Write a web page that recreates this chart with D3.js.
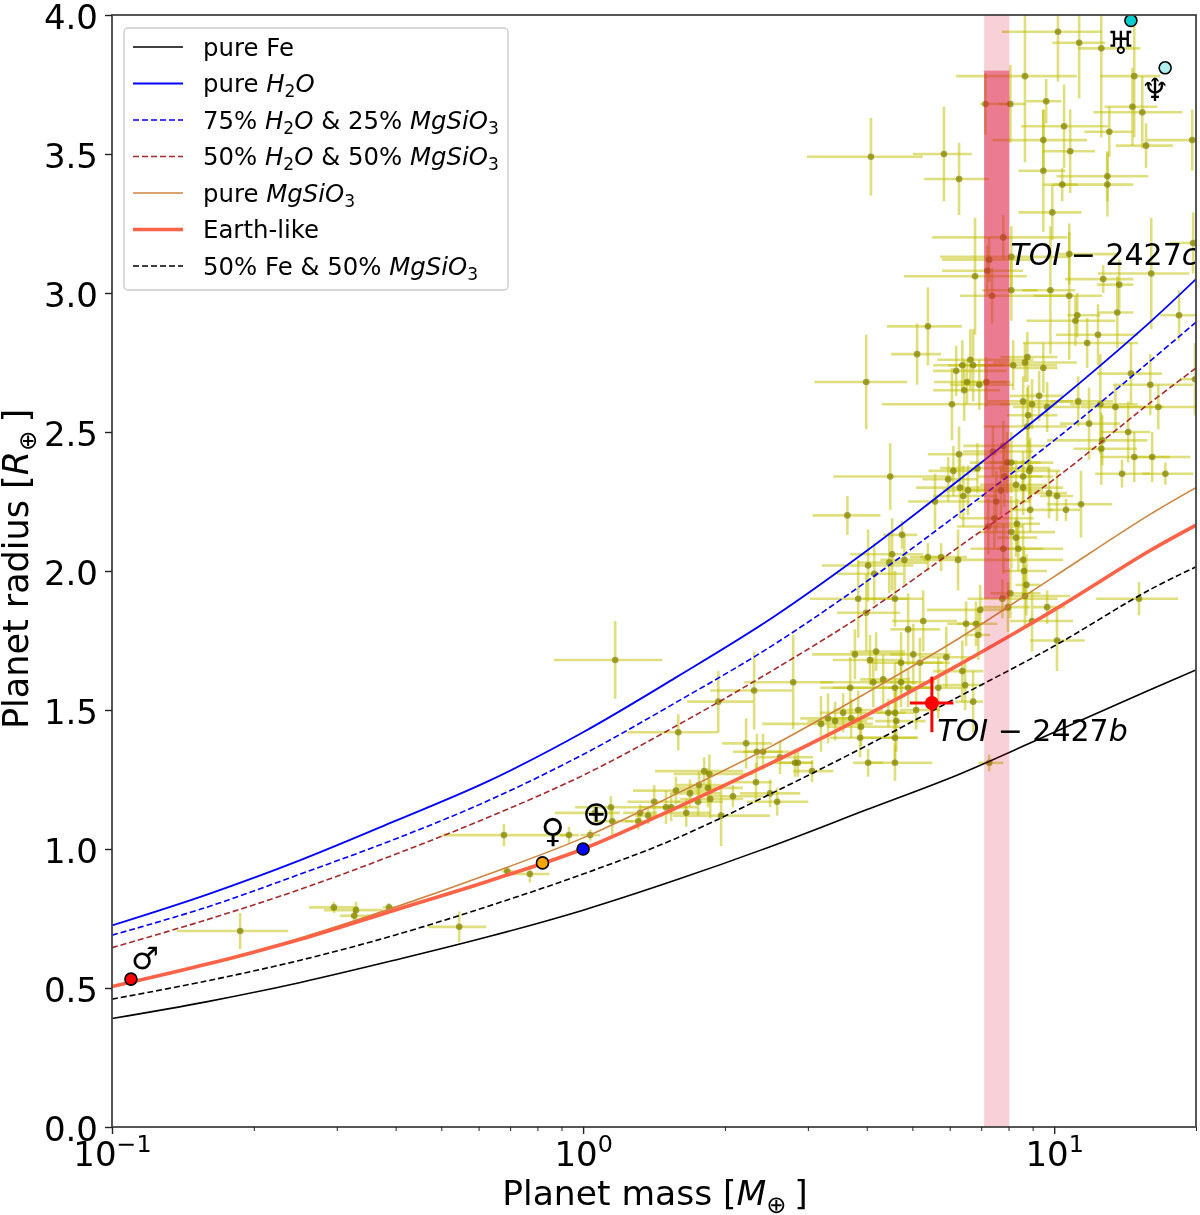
<!DOCTYPE html>
<html><head><meta charset="utf-8">
<script src="https://cdnjs.cloudflare.com/ajax/libs/d3/7.8.5/d3.min.js"></script>
<style>
html,body{margin:0;padding:0;background:#fff}
svg{display:block;filter:blur(0.45px)}
text{font-family:"DejaVu Sans";fill:#000}
</style></head><body><svg id="c" width="1200" height="1215"></svg>
<script>
// Curves: radius read at each log10(mass)
const curveLogMass=[-1,-.8,-.6,-.4,-.2,0,.2,.4,.6,.8,1,1.2,1.301];
const pureFe=[.39,.45,.52,.60,.685,.78,.89,1.01,1.14,1.27,1.42,1.57,1.644];
const pureH2O=[.725,.835,.96,1.10,1.245,1.42,1.62,1.83,2.07,2.33,2.60,2.89,3.05];
const h2o75=[.69,.79,.91,1.035,1.175,1.34,1.53,1.73,1.96,2.21,2.47,2.75,2.895];
const h2o50=[.645,.745,.855,.98,1.115,1.265,1.445,1.64,1.85,2.09,2.33,2.60,2.73];
const pureMgSiO3=[.505,.585,.68,.79,.91,1.04,1.20,1.37,1.56,1.76,1.98,2.20,2.30];
const earthLike=[.505,.585,.675,.78,.885,1.00,1.15,1.31,1.48,1.665,1.86,2.07,2.165];
const fe50=[.46,.525,.60,.69,.795,.91,1.04,1.20,1.37,1.55,1.73,1.93,2.015];

// Exoplanets: log10(mass), radius, and their error bars
const planetLogMass=[
.611,.766,.798,.938,1.008,1.053,1.100,1.170,1.166,1.187,
.983,.907,.854,1.021,1.117,.977,1.034,1.195,1.293,.977,
1.113,1.017,1.113,.996,.892,.909,.862,.858,.832,.909,
.868,.992,1.032,1.104,1.138,1.206,1.032,1.134,1.265,1.049,
1.045,1.093,1.070,.732,1.295,.709,.601,.822,.805,.828,
.792,.913,.943,.938,.977,.815,.841,.856,.809,.783,
.968,.934,.953,.985,1.051,1.098,1.130,1.221,1.163,1.204,
1.299,.945,.943,1.074,1.157,1.102,1.100,.892,.870,.798,
1.170,1.208,.900,.909,.837,.786,.652,.775,1.144,1.236,
.949,.947,.894,.934,.919,.934,.800,.817,.887,.807,
.989,1.006,.747,.877,1.057,.949,1.025,.561,.873,.921,
.860,.909,.919,.892,.924,.677,.605,.656,.650,.682,
.732,.760,.796,.934,.618,.936,.941,.584,.662,.890,
.907,.938,.902,.985,.843,.601,.722,.813,.834,.953,
.690,.839,1.180,1.006,.068,.202,.287,.363,.446,.577,
.609,.622,.675,.701,.616,.567,.637,.675,.662,.690,
.715,.754,.805,.771,.811,.828,.552,.520,.535,.569,
.584,.505,.648,.662,.665,.707,.590,.588,.662,.605,
.662,.862,.346,.369,.382,.418,.450,.456,.486,.367,
.397,.412,.318,.257,.268,.246,.265,.197,.227,.270,
.244,.151,.176,.187,.059,.219,.121,.138,.117,.062,
.293,.015,-.030,-.168,-.161,-.113,-.263,-.412,-.529,-.482,
-.486,-.728,.025];
const planetRadius=[
3.49,3.50,3.41,3.78,3.94,3.90,3.88,3.78,3.67,3.65,
3.69,3.68,3.68,3.60,3.58,3.55,3.51,3.53,3.55,3.44,
3.42,3.39,3.39,3.29,3.20,3.13,3.12,3.08,3.06,3.01,
2.99,3.01,2.99,3.05,3.03,3.07,3.14,2.93,2.92,2.92,
2.90,2.85,2.82,2.88,3.18,2.78,2.68,2.76,2.74,2.74,
2.72,2.74,2.77,2.75,2.73,2.68,2.67,2.68,2.65,2.60,
2.63,2.61,2.60,2.59,2.61,2.60,2.59,2.59,2.71,2.67,
2.69,2.56,2.52,2.53,2.50,2.47,2.44,2.45,2.43,2.42,
2.41,2.41,2.39,2.39,2.37,2.36,2.34,2.33,2.35,2.35,
2.37,2.36,2.34,2.34,2.31,2.30,2.30,2.29,2.29,2.27,
2.28,2.27,2.25,2.25,2.24,2.22,2.22,2.20,2.19,2.17,
2.16,2.14,2.12,2.08,2.08,2.13,2.02,2.06,2.03,2.04,
2.05,2.05,2.04,2.04,1.99,2.00,1.95,1.90,1.90,1.90,
1.92,1.91,1.87,1.87,1.86,1.85,1.82,1.81,1.81,1.82,
1.79,1.77,1.90,1.75,1.68,1.42,1.53,1.57,1.60,1.70,
1.68,1.71,1.67,1.70,1.60,1.58,1.61,1.60,1.58,1.58,
1.67,1.58,1.64,1.69,1.59,1.53,1.49,1.47,1.46,1.47,
1.50,1.45,1.49,1.49,1.46,1.50,1.44,1.40,1.40,1.31,
1.31,1.31,1.38,1.35,1.35,1.33,1.31,1.31,1.28,1.24,
1.20,1.17,1.19,1.28,1.27,1.23,1.22,1.21,1.20,1.18,
1.17,1.17,1.15,1.15,1.15,1.13,1.13,1.12,1.10,1.10,
1.12,1.05,1.05,1.05,.92,.91,.72,.79,.79,.78,
.76,.705,1.13];
const logMassErrLow=[
.136,.066,.074,.146,.119,.057,.049,.072,.059,.104,
.042,.025,.011,.091,.053,.108,.059,.064,.096,.053,
.108,.040,.115,.072,.151,.151,.100,.096,.151,.062,
.068,.059,.076,.081,.047,.113,.023,.042,.040,.021,
.104,.089,.136,.087,.049,.055,.110,.070,.062,.053,
.049,.070,.057,.068,.064,.070,.062,.055,.066,.149,
.062,.076,.068,.072,.059,.064,.074,.123,.072,.079,
.032,.045,.093,.062,.059,.117,.059,.085,.064,.066,
.072,.040,.079,.045,.079,.053,.121,.055,.057,.049,
.042,.062,.057,.042,.076,.055,.093,.053,.066,.064,
.040,.036,.057,.040,.072,.042,.034,.074,.072,.042,
.066,.066,.040,.070,.045,.040,.098,.089,.068,.051,
.038,.045,.074,.042,.079,.045,.023,.102,.068,.074,
.042,.053,.059,.030,.113,.062,.066,.040,.040,.047,
.038,.028,.091,.057,.130,.108,.066,.093,.104,.091,
.079,.055,.072,.049,.113,.064,.049,.066,.132,.042,
.053,.059,.062,.055,.053,.038,.049,.059,.059,.045,
.053,.125,.038,.038,.045,.034,.072,.064,.068,.032,
.059,.023,.051,.051,.042,.047,.047,.038,.040,.055,
.064,.064,.055,.104,.076,.047,.066,.091,.042,.064,
.045,.057,.055,.051,.076,.049,.036,.028,.028,.040,
.102,.021,.019,.132,.011,.053,.066,.013,.053,.068,
.030,.134,.085];
const logMassErrHigh=[
.110,.059,.064,.110,.093,.055,.083,.055,.053,.085,
.032,.032,.053,.093,.049,.093,.053,.057,.096,.047,
.087,.034,.055,.062,.136,.125,.093,.076,.110,.055,
.172,.053,.070,.064,.030,.081,.102,.034,.064,.049,
.085,.085,.108,.072,.042,.051,.087,.134,.108,.064,
.108,.093,.064,.110,.030,.085,.072,.051,.076,.123,
.051,.106,.053,.070,.074,.079,.102,.081,.066,.091,
.032,.062,.085,.066,.047,.096,.076,.093,.085,.081,
.076,.081,.098,.062,.076,.057,.134,.062,.059,.059,
.042,.066,.104,.042,.066,.085,.070,.053,.089,.072,
.038,.034,.074,.072,.066,.049,.030,.070,.083,.049,
.074,.093,.045,.127,.053,.032,.096,.066,.081,.055,
.040,.055,.110,.085,.062,.049,.030,.104,.059,.117,
.064,.096,.047,.038,.064,.072,.072,.036,.045,.087,
.068,.025,.083,.059,.100,.085,.074,.081,.085,.106,
.064,.062,.089,.079,.093,.091,.057,.072,.081,.047,
.064,.062,.045,.062,.038,.021,.051,.062,.068,.047,
.053,.110,.036,.042,.062,.051,.083,.121,.049,.032,
.079,.030,.055,.055,.057,.070,.038,.032,.045,.034,
.064,.066,.064,.083,.093,.051,.074,.079,.064,.070,
.053,.055,.045,.055,.076,.051,.036,.032,.025,.045,
.104,.021,.021,.134,.013,.042,.057,.013,.051,.057,
.034,.102,.053];
const radiusErr=[
.14,.17,.13,.31,.18,.20,.32,.22,.14,.13,
.08,.14,.11,.15,.09,.11,.15,.08,.11,.22,
.09,.06,.115,.10,.08,.11,.08,.09,.21,.11,
.10,.23,.23,.05,.09,.20,.11,.13,.09,.08,
.09,.11,.09,.14,.11,.11,.17,.11,.09,.13,
.09,.09,.09,.07,.09,.08,.09,.09,.11,.13,
.09,.09,.09,.09,.09,.18,.08,.08,.11,.11,
.13,.11,.14,.13,.11,.09,.13,.09,.09,.10,
.09,.09,.11,.11,.09,.09,.12,.08,.05,.04,
.11,.11,.11,.09,.09,.10,.11,.09,.09,.11,
.09,.09,.10,.11,.12,.08,.04,.07,.11,.09,
.10,.13,.07,.09,.08,.05,.13,.13,.11,.09,
.05,.05,.11,.13,.11,.09,.11,.14,.10,.07,
.09,.11,.09,.06,.09,.14,.11,.08,.08,.11,
.13,.09,.06,.11,.14,.065,.11,.14,.17,.09,
.09,.07,.11,.11,.09,.11,.09,.09,.09,.07,
.09,.11,.11,.11,.09,.11,.07,.09,.07,.07,
.07,.10,.05,.08,.11,.07,.07,.07,.09,.05,
.065,.03,.09,.065,.065,.06,.05,.05,.04,.07,
.05,.05,.04,.05,.07,.05,.07,.05,.05,.07,
.05,.06,.06,.05,.04,.05,.03,.03,.03,.05,
.11,.02,.03,.04,.015,.03,.055,.015,.02,.03,
.02,.065,.03];

// Solar system bodies
const solarMass=[.1097,.82,1,14.55,17.2];
const solarRadius=[.532,.95,1,3.98,3.81];
const solarColors=["#ff0000","#ffa500","#0000ff","#00cdcd","#aeeeee"];
const symbolGlyphs=["\u2642","\u2640","\u2295","\u2645","\u2646"];
const symbolLogMass=[-.930,-.064,.028,1.142,1.214];
const symbolRadius=[.608,1.068,1.13,3.90,3.73];
const symbolSizes=[31,33,34,32,32];

// TOI-2427
const toiMass=5.5, toiRadius=1.525, toiMassLow=4.94, toiMassHigh=6.11, toiRadiusLow=1.42, toiRadiusHigh=1.62;
const bandMass=[7.1,8.03];
const bandRadius=[1.9,3.8];

const xTicks=[.1,1,10];
const xTickExponents=["\u22121","0","1"];
const xMinorTicks=[.2,.3,.4,.5,.6,.7,.8,.9,2,3,4,5,6,7,8,9,20];
const yTicks=[0,.5,1,1.5,2,2.5,3,3.5,4];

const L=112,R=1196,T=15,B=1127;
const x=d3.scaleLog().domain([.1,20]).range([L,R]);
const y=d3.scaleLinear().domain([0,4]).range([B,T]);
const lm=d=>x(10**d);
const svg=d3.select("#c");
svg.append("defs").append("clipPath").attr("id","ax").append("rect").attr("x",L).attr("y",T).attr("width",R-L).attr("height",B-T);
const plot=svg.append("g").attr("clip-path","url(#ax)");

// error bars and markers
const idx=d3.range(planetLogMass.length);
const ge=plot.append("g").attr("stroke","rgb(191,191,0)").attr("stroke-opacity",.5).attr("stroke-width",2.6);
ge.selectAll(".h").data(idx).join("line")
 .attr("x1",i=>lm(planetLogMass[i]-logMassErrLow[i])).attr("x2",i=>lm(planetLogMass[i]+logMassErrHigh[i]))
 .attr("y1",i=>y(planetRadius[i])).attr("y2",i=>y(planetRadius[i]));
ge.selectAll(".v").data(idx).join("line")
 .attr("x1",i=>lm(planetLogMass[i])).attr("x2",i=>lm(planetLogMass[i]))
 .attr("y1",i=>y(planetRadius[i]-radiusErr[i])).attr("y2",i=>y(planetRadius[i]+radiusErr[i]));
plot.append("g").selectAll("circle").data(idx).join("circle")
 .attr("cx",i=>lm(planetLogMass[i])).attr("cy",i=>y(planetRadius[i])).attr("r",3.3)
 .attr("fill","#808000").attr("fill-opacity",.7);

// model curves
const lineGen=d3.line().x((d,i)=>lm(curveLogMass[i])).y(d=>y(d)).curve(d3.curveCatmullRom.alpha(.5));
const curves=[
 {v:pureFe,c:"#000000",w:1.6,d:null},
 {v:pureH2O,c:"#0000ff",w:1.8,d:null},
 {v:h2o75,c:"#0000ff",w:1.6,d:"6 3"},
 {v:h2o50,c:"#a52a2a",w:1.6,d:"6 3"},
 {v:pureMgSiO3,c:"#cd853f",w:1.6,d:null},
 {v:earthLike,c:"#ff6347",w:3.6,d:null},
 {v:fe50,c:"#000000",w:1.6,d:"6 3"}
];
plot.append("g").selectAll("path").data(curves).join("path")
 .attr("d",d=>lineGen(d.v)).attr("fill","none").attr("stroke",d=>d.c).attr("stroke-width",d=>d.w)
 .attr("stroke-dasharray",d=>d.d);

// shaded bands
plot.append("rect").attr("x",x(bandMass[0])).attr("width",x(bandMass[1])-x(bandMass[0]))
 .attr("y",T).attr("height",B-T).attr("fill","#dc143c").attr("fill-opacity",.2);
plot.append("rect").attr("x",x(bandMass[0])).attr("width",x(bandMass[1])-x(bandMass[0]))
 .attr("y",y(bandRadius[1])).attr("height",y(bandRadius[0])-y(bandRadius[1])).attr("fill","#dc143c").attr("fill-opacity",.45);

// TOI-2427 b
const toi=plot.append("g").attr("stroke","#ff0000").attr("stroke-width",3);
toi.append("line").attr("x1",x(toiMassLow)).attr("x2",x(toiMassHigh)).attr("y1",y(toiRadius)).attr("y2",y(toiRadius));
toi.append("line").attr("x1",x(toiMass)).attr("x2",x(toiMass)).attr("y1",y(toiRadiusLow)).attr("y2",y(toiRadiusHigh));
plot.append("circle").attr("cx",x(toiMass)).attr("cy",y(toiRadius)).attr("r",7).attr("fill","#ff0000");

// solar system
plot.append("g").selectAll("circle").data(solarMass).join("circle")
 .attr("cx",d=>x(d)).attr("cy",(d,i)=>y(solarRadius[i])).attr("r",6)
 .attr("fill",(d,i)=>solarColors[i]).attr("stroke","#000").attr("stroke-width",1.6);
plot.append("g").selectAll("text").data(symbolGlyphs).join("text")
 .attr("x",(d,i)=>lm(symbolLogMass[i])).attr("y",(d,i)=>y(symbolRadius[i]))
 .attr("text-anchor","middle").attr("dominant-baseline","central").attr("font-size",(d,i)=>symbolSizes[i]).text(d=>d);

// rich text helper: style i=italic, s=subscript, u=superscript
function rich(t,parts,fs){
 let prev=0;
 parts.forEach(([s,st])=>{
  const sp=t.append("tspan").text(s);
  const sub=st&&st.includes("s"), sup=st&&st.includes("u");
  if(st&&st.includes("i")) sp.attr("font-style","italic");
  const off=sub?fs*.22:sup?-fs*.42:0;
  if(sub||sup) sp.attr("font-size",fs*.7);
  sp.attr("dy",off-prev); prev=off;
 });
}
// TOI labels
const tl=(logm,r,letter)=>{
 const t=plot.append("text").attr("x",lm(logm)).attr("y",y(r)).attr("font-size",30);
 rich(t,[["TOI","i"],[" \u2212 2427"],[letter,"i"]],30);
};
tl(.907,3.10,"c"); tl(.752,1.39,"b");

// frame
svg.append("rect").attr("x",L).attr("y",T).attr("width",R-L).attr("height",B-T).attr("fill","none").attr("stroke","#444").attr("stroke-width",1.8);

// axes
const yA=svg.append("g").attr("transform",`translate(${L},0)`).call(d3.axisLeft(y).tickValues(yTicks).tickFormat(d3.format(".1f")).tickSize(7).tickPadding(7));
yA.select(".domain").remove();
yA.selectAll("text").attr("font-size",34).attr("fill","#000").attr("font-family","DejaVu Sans").attr("dy","0.4em");
yA.selectAll("line").attr("stroke","#222").attr("stroke-width",1.4);
const xA=svg.append("g").attr("transform",`translate(0,${B})`).call(d3.axisBottom(x).tickValues(xTicks).tickFormat("").tickSize(7));
xA.select(".domain").remove();
xA.selectAll("line").attr("stroke","#222").attr("stroke-width",1.4);
const xM=svg.append("g").attr("transform",`translate(0,${B})`).call(d3.axisBottom(x).tickValues(xMinorTicks).tickFormat("").tickSize(4));
xM.select(".domain").remove();
xM.selectAll("line").attr("stroke","#222").attr("stroke-width",1);
xA.selectAll(".tick").append("text").attr("y",39).attr("text-anchor","middle").attr("font-size",34).attr("fill","#000")
 .each(function(d,i){ rich(d3.select(this),[["10"],[xTickExponents[i],"u"]],34); });

const xl=svg.append("text").attr("x",655).attr("y",1205).attr("text-anchor","middle").attr("font-size",34.5);
rich(xl,[["Planet mass ["],["M","i"],["\u2295 ","s"],["]"]],34.5);
const yl=svg.append("text").attr("transform","translate(28,569) rotate(-90)").attr("text-anchor","middle").attr("font-size",35);
rich(yl,[["Planet radius ["],["R","i"],["\u2295 ","s"],["]"]],35);

// legend
const lg=svg.append("g");
lg.append("rect").attr("x",124).attr("y",28).attr("width",384).attr("height",262).attr("rx",4).attr("fill","#fff").attr("fill-opacity",.8).attr("stroke","#ccc").attr("stroke-width",1.4);
const legendLabels=[
 [["pure Fe"]],
 [["pure "],["H","i"],["2","s"],["O","i"]],
 [["75% "],["H","i"],["2","s"],["O","i"],[" & 25% "],["MgSiO","i"],["3","s"]],
 [["50% "],["H","i"],["2","s"],["O","i"],[" & 50% "],["MgSiO","i"],["3","s"]],
 [["pure "],["MgSiO","i"],["3","s"]],
 [["Earth-like"]],
 [["50% Fe & 50% "],["MgSiO","i"],["3","s"]]
];
const rowY=d3.scaleLinear().domain([0,6]).range([47,266]);
curves.forEach((c,i)=>{
 lg.append("line").attr("x1",133).attr("x2",183).attr("y1",rowY(i)).attr("y2",rowY(i))
  .attr("stroke",c.c).attr("stroke-width",c.w).attr("stroke-dasharray",c.d);
 const t=lg.append("text").attr("x",203).attr("y",rowY(i)+8.5).attr("font-size",24.4);
 rich(t,legendLabels[i],24.4);
});
</script></body></html>
